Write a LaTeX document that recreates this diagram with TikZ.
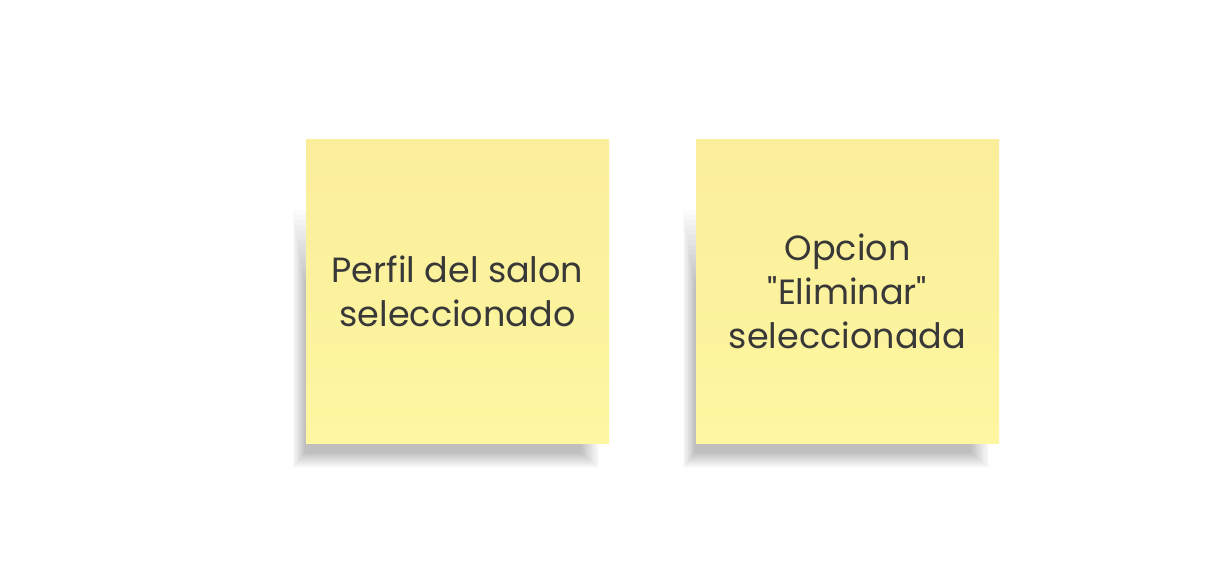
\documentclass[tikz,border=0pt]{standalone}
\usepackage{fontspec}
\setmainfont{Poppins}[Ligatures=TeXOff]
\usetikzlibrary{backgrounds}
\definecolor{notetop}{HTML}{FAEE9A}
\definecolor{notebot}{HTML}{FEF6A0}
\definecolor{notetext}{HTML}{383838}
\tikzset{
  sticky/.style={minimum width=303pt, minimum height=303pt, inner sep=0pt,
    top color=notetop, bottom color=notebot, draw=none,
    text=notetext, align=center, font=\fontsize{35}{44}\selectfont},
  shadowlayer/.style={fill=black, fill opacity=0.015, draw=none}
}
\newcommand{\stickyshadow}[1]{%
  \foreach \i in {0,...,15}{
    \fill[shadowlayer] ([xshift=-13pt+0.8*\i pt, yshift=-25pt+\i pt]#1.south west)
      rectangle ([xshift=-10pt-1.2*\i pt, yshift=-70pt-5*\i pt]#1.north east);
  }%
}
\begin{document}
\begin{tikzpicture}[x=1pt,y=1pt]
\useasboundingbox (0,0) rectangle (1230,565);
\node[sticky] (n1) at (457.5,273.5) {Perfil del salon\\seleccionado};
\node[sticky] (n2) at (847.5,273.5) {Opcion\\"Eliminar"\\seleccionada};
\begin{scope}[on background layer]
  \fill[white] (0,0) rectangle (1230,565);
  \stickyshadow{n1}
  \stickyshadow{n2}
\end{scope}
\end{tikzpicture}
\end{document}
